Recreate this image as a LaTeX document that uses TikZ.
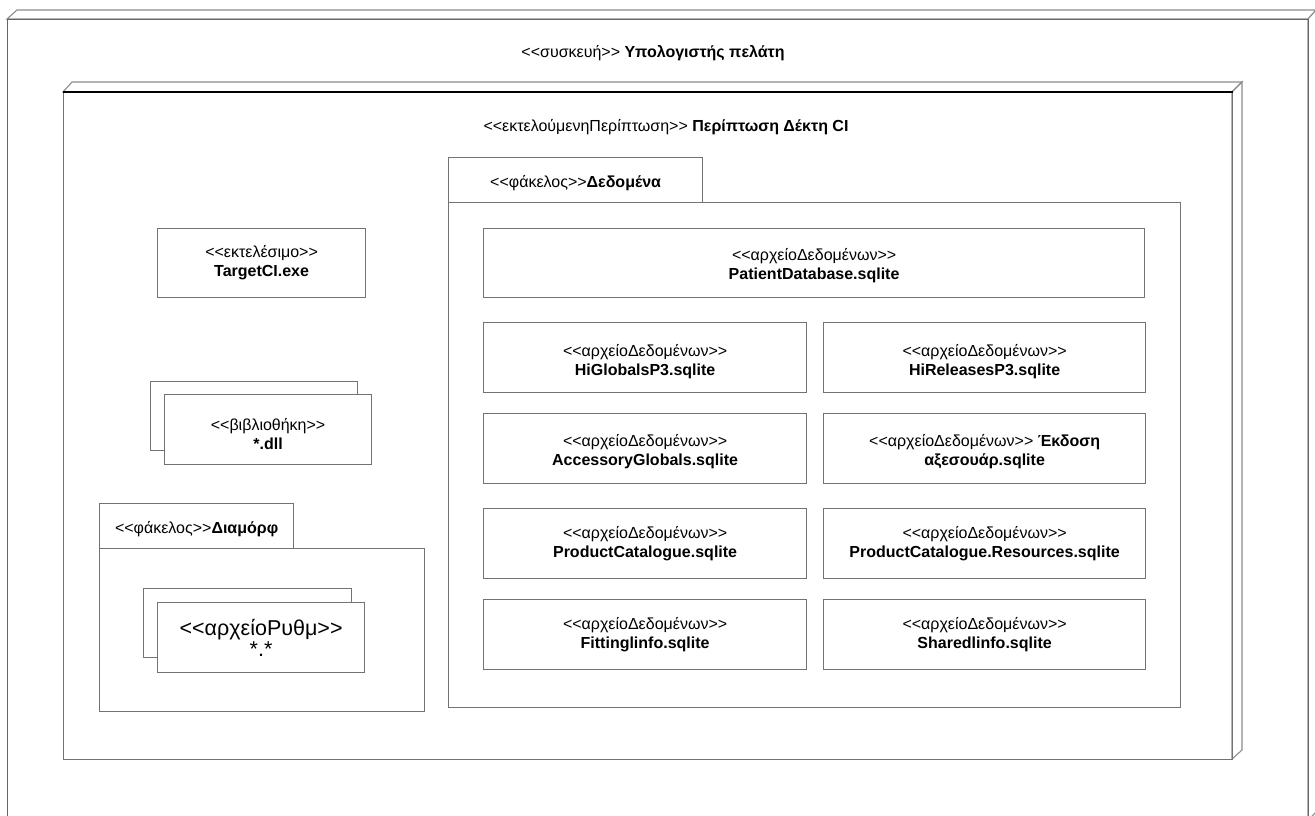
\documentclass[tikz,border=0pt]{standalone}
\usepackage{fontspec}
\setmainfont{Liberation Sans}[Ligatures=TeXOff]
\begin{document}
\begin{tikzpicture}[x=1pt,y=-1pt,
  txt/.style={font=\fontsize{16}{19}\selectfont, align=center, inner sep=0pt},
  lbl/.style={txt, label distance=0pt},
  face/.style={draw=black!45, line width=1.1pt, fill=white},
  box/.style={draw=black!55, line width=1.2pt, fill=white, anchor=north west,
    inner sep=0pt, align=center, font=\fontsize{16}{19}\selectfont},
  datafile/.style={box, minimum height=70pt},
]
\useasboundingbox (0,0) rectangle (1315,815);
\clip (0,0) rectangle (1315,815);

% device node: front face with its top and right faces
\draw[face] (7,19) -- (17,10) -- (1316,10) -- (1308,19) -- cycle;
\draw[face] (1308,19) -- (1316,10) -- (1316,812) -- (1308,820) -- cycle;
\node[draw=black!60, line width=1.2pt, anchor=north west, minimum width=1301pt,
  minimum height=802pt, inner sep=0pt] (device) at (7,19) {};
\node[txt] (devlabel) at (653,53) {<<συσκευή>> \textbf{Υπολογιστής πελάτη}};

% execution environment node
\draw[face] (63,92) -- (72,82) -- (1242,82) -- (1232,92) -- cycle;
\draw[face] (1232,92) -- (1242,82) -- (1242,750) -- (1232,759) -- cycle;
\node[draw=black!55, line width=1.2pt, anchor=north west, minimum width=1169pt,
  minimum height=667pt, inner sep=0pt] (exec) at (63,92) {};
\draw[black, line width=1.8pt] (exec.north west) -- (exec.north east);
\node[txt] (execlabel) at (666,127) {<<εκτελούμενηΠερίπτωση>> \textbf{Περίπτωση Δέκτη CI}};

% executable
\node[box, minimum width=208pt, minimum height=69pt] (exe) at (157,228)
  {<<εκτελέσιμο>>\\ \textbf{TargetCI.exe}};

% library (stacked)
\node[box, minimum width=207pt, minimum height=69pt] (dllback) at (150,381) {};
\node[box, minimum width=207pt, minimum height=70pt,
  label={[lbl, yshift=-4pt]center:{<<βιβλιοθήκη>>\\ \textbf{*.dll}}}] (dll) at (164,394) {};

% configuration folder
\node[box, minimum width=194pt, minimum height=45pt,
  label={[lbl, yshift=-3pt]center:{<<φάκελος>>\textbf{Διαμόρφ}}}] (cfgtab) at (99,503) {};
\node[box, minimum width=325pt, minimum height=163pt] (cfg) at (99,548) {};
\node[box, minimum width=208pt, minimum height=69pt] (cfgback) at (143,588) {};
\node[box, minimum width=207pt, minimum height=70pt, font=\fontsize{21.5}{21}\selectfont] (cfgfile) at (157,602)
  {<<αρχείοΡυθμ>>\\ *.*};

% data folder
\node[box, minimum width=254pt, minimum height=45pt,
  label={[lbl, yshift=-3pt]center:{<<φάκελος>>\textbf{Δεδομένα}}}] (datatab) at (448,157) {};
\node[box, minimum width=732pt, minimum height=505pt] (data) at (448,202) {};

\node[box, minimum width=661pt, minimum height=69pt,
  label={[lbl, yshift=-3pt]center:{<<αρχείοΔεδομένων>>\\ \textbf{PatientDatabase.sqlite}}}] (patient) at (483,228) {};

\node[datafile, minimum width=323pt,
  label={[lbl, yshift=-4pt]center:{<<αρχείοΔεδομένων>>\\ \textbf{HiGlobalsP3.sqlite}}}] (higlob) at (483,322) {};
\node[datafile, minimum width=322pt,
  label={[lbl, yshift=-4pt]center:{<<αρχείοΔεδομένων>>\\ \textbf{HiReleasesP3.sqlite}}}] (hirel) at (823,322) {};
\node[datafile, minimum width=323pt,
  label={[lbl, yshift=-3pt]center:{<<αρχείοΔεδομένων>>\\ \textbf{AccessoryGlobals.sqlite}}}] (accglob) at (483,413) {};
\node[datafile, minimum width=322pt,
  label={[lbl, yshift=-3pt]center:{<<αρχείοΔεδομένων>> \textbf{Έκδοση}\\ \textbf{αξεσουάρ.sqlite}}}] (accrel) at (823,413) {};
\node[datafile, minimum width=323pt] (prodcat) at (483,508)
  {<<αρχείοΔεδομένων>>\\ \textbf{ProductCatalogue.sqlite}};
\node[datafile, minimum width=322pt] (prodres) at (823,508)
  {<<αρχείοΔεδομένων>>\\ \textbf{ProductCatalogue.Resources.sqlite}};
\node[datafile, minimum width=323pt] (fitting) at (483,599)
  {<<αρχείοΔεδομένων>>\\ \textbf{Fittinglinfo.sqlite}};
\node[datafile, minimum width=322pt] (shared) at (823,599)
  {<<αρχείοΔεδομένων>>\\ \textbf{Sharedlinfo.sqlite}};
\end{tikzpicture}
\end{document}
